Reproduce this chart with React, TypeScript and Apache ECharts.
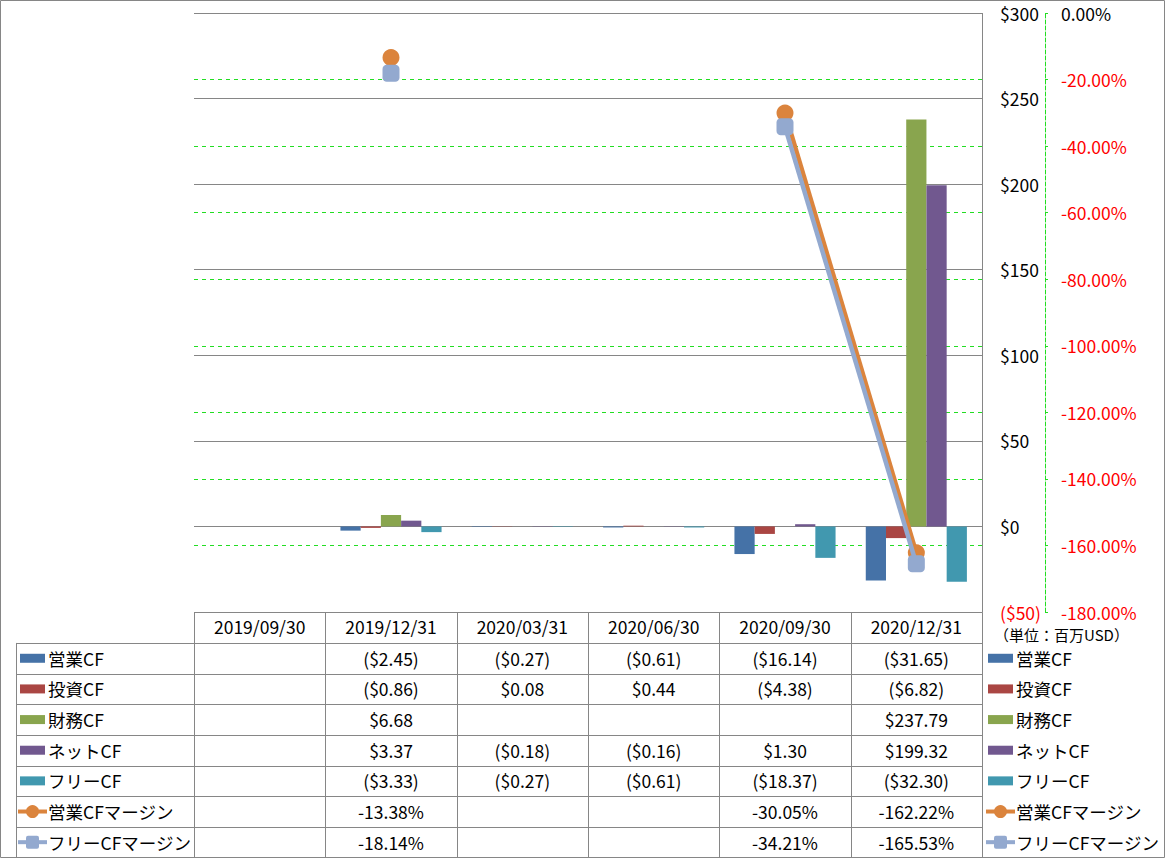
import React, { useEffect, useRef } from "react";
import * as echarts from "echarts";

const categories = ["2019/09/30", "2019/12/31", "2020/03/31", "2020/06/30", "2020/09/30", "2020/12/31"];
const opCF = [null, -2.45, -0.27, -0.61, -16.14, -31.65];
const invCF = [null, -0.86, 0.08, 0.44, -4.38, -6.82];
const finCF = [null, 6.68, null, null, null, 237.79];
const netCF = [null, 3.37, -0.18, -0.16, 1.3, 199.32];
const freeCF = [null, -3.33, -0.27, -0.61, -18.37, -32.3];
const opMargin = [null, -13.38, null, null, -30.05, -162.22];
const freeMargin = [null, -18.14, null, null, -34.21, -165.53];

const barNames = ["営業CF", "投資CF", "財務CF", "ネットCF", "フリーCF"];
const lineNames = ["営業CFマージン", "フリーCFマージン"];
const barColors = ["#4572A7", "#AA4643", "#89A54E", "#71588F", "#4198AF"];
const lineColors = ["#DB843D", "#93A9CF"];
const unitLabel = "（単位：百万USD）";

const FONT = '"Noto Sans CJK JP", "Noto Sans", sans-serif';
const FS = 17.5;

const fmtMoney = (v: number | null) =>
  v == null ? "" : v < 0 ? `($${Math.abs(v).toFixed(2)})` : `$${v.toFixed(2)}`;
const fmtPct = (v: number | null) => (v == null ? "" : `${v.toFixed(2)}%`);

export default function App() {
  const ref = useRef<HTMLDivElement>(null);
  useEffect(() => {
    document.body.style.margin = "0";
    const chart = echarts.init(ref.current!, null, { renderer: "svg" });

    const gridLeft = 194;
    const gridRight = 982;
    const colW = (gridRight - gridLeft) / categories.length;
    const rowTop = 612.3;
    const rowH = 30.65;
    const labelLeft = 16;
    const border = "#868686";

    const barData = [opCF, invCF, finCF, netCF, freeCF];
    const lineData = [opMargin, freeMargin];

    const graphics: any[] = [];
    const Z = 50;
    graphics.push({
      type: "rect",
      z: Z,
      shape: { x: 0.5, y: 0.5, width: 1164, height: 857 },
      style: { fill: "none", stroke: border, lineWidth: 1 },
      silent: true,
    });
    graphics.push({
      type: "line",
      z: Z,
      shape: { x1: gridRight + 0.5, y1: 13, x2: gridRight + 0.5, y2: rowTop },
      style: { stroke: border, lineWidth: 1 },
    });
    graphics.push({
      type: "line",
      z: Z,
      shape: { x1: gridLeft, y1: 13.5, x2: gridRight + 0.5, y2: 13.5 },
      style: { stroke: border, lineWidth: 1 },
    });
    const nRows = 7;
    for (let r = 0; r <= nRows + 1; r++) {
      const y = Math.round(rowTop + r * rowH) + 0.5;
      const x1 = r === 0 ? gridLeft : labelLeft;
      graphics.push({
        type: "line",
        z: Z,
        shape: { x1, y1: y, x2: gridRight + 0.5, y2: y },
        style: { stroke: border, lineWidth: 1 },
      });
    }
    for (let c = 0; c <= categories.length; c++) {
      const x = Math.round(gridLeft + c * colW) + 0.5;
      graphics.push({
        type: "line",
        z: Z,
        shape: { x1: x, y1: rowTop, x2: x, y2: 857 },
        style: { stroke: border, lineWidth: 1 },
      });
    }
    graphics.push({
      type: "line",
      z: Z,
      shape: { x1: labelLeft + 0.5, y1: rowTop + rowH, x2: labelLeft + 0.5, y2: 857 },
      style: { stroke: border, lineWidth: 1 },
    });

    const allNames = [...barNames, ...lineNames];
    const allColors = [...barColors, ...lineColors];
    const allData = [...barData, ...lineData];

    const drawIcon = (i: number, x0: number, cy: number) => {
      if (i < barNames.length) {
        graphics.push({
          type: "rect",
          z: Z,
          shape: { x: x0, y: cy - 4.5, width: 25, height: 9 },
          style: { fill: allColors[i] },
        });
      } else {
        graphics.push({
          type: "line",
          z: Z,
          shape: { x1: x0 - 2, y1: cy, x2: x0 + 27, y2: cy },
          style: { stroke: allColors[i], lineWidth: 4 },
        });
        if (i === barNames.length) {
          graphics.push({
            type: "circle",
            z: Z,
            shape: { cx: x0 + 12.5, cy, r: 6.5 },
            style: { fill: allColors[i] },
          });
        } else {
          graphics.push({
            type: "rect",
            z: Z,
            shape: { x: x0 + 6, y: cy - 6.5, width: 13, height: 13, r: 2 },
            style: { fill: allColors[i] },
          });
        }
      }
    };

    allNames.forEach((name, i) => {
      const cy = rowTop + (i + 1) * rowH + rowH / 2;
      // left table legend
      drawIcon(i, 20, cy);
      graphics.push({
        type: "text",
        z: Z,
        x: 48,
        y: cy,
        style: { text: name, fill: "#000", font: `${FS}px ${FONT}`, textVerticalAlign: "middle", textAlign: "left" },
      });
      // right legend
      drawIcon(i, 988, cy);
      graphics.push({
        type: "text",
        z: Z,
        x: 1016,
        y: cy,
        style: { text: name, fill: "#000", font: `${FS}px ${FONT}`, textVerticalAlign: "middle", textAlign: "left" },
      });
      allData[i].forEach((v, c) => {
        const txt = i < barNames.length ? fmtMoney(v as any) : fmtPct(v as any);
        if (!txt) return;
        graphics.push({
          type: "text",
          z: Z,
          x: gridLeft + (c + 0.5) * colW,
          y: cy,
          style: { text: txt, fill: "#000", font: `${FS}px ${FONT}`, textVerticalAlign: "middle", textAlign: "center" },
        });
      });
    });
    graphics.push({
      type: "text",
      z: Z,
      x: 994,
      y: 634,
      style: { text: unitLabel, fill: "#000", font: `15px ${FONT}`, textVerticalAlign: "middle", textAlign: "left" },
    });

    const series: any[] = [];
    barNames.forEach((name, i) => {
      series.push({
        name,
        type: "bar",
        yAxisIndex: 0,
        data: barData[i],
        itemStyle: { color: barColors[i] },
        barGap: "0%",
        barCategoryGap: "23%",
      });
    });
    lineNames.forEach((name, i) => {
      series.push({
        name,
        type: "line",
        yAxisIndex: 1,
        data: lineData[i],
        connectNulls: false,
        symbol: i === 0 ? "circle" : "roundRect",
        symbolSize: 17,
        lineStyle: { color: lineColors[i], width: 4.5 },
        itemStyle: { color: lineColors[i] },
        z: 3 + i,
      });
    });

    chart.setOption({
      animation: false,
      textStyle: { fontFamily: FONT },
      grid: { left: gridLeft, top: 13, width: gridRight - gridLeft, height: 599 },
      xAxis: {
        type: "category",
        data: categories,
        position: "bottom",
        axisLine: { show: false, onZero: false },
        axisTick: { show: false },
        axisLabel: { margin: 6, fontSize: FS, color: "#000", fontFamily: FONT, interval: 0 },
        splitLine: { show: false },
      },
      yAxis: [
        {
          type: "value",
          position: "right",
          min: -50,
          max: 300,
          interval: 50,
          axisLine: { show: false },
          axisTick: { show: false },
          axisLabel: {
            margin: 18,
            fontSize: FS,
            fontFamily: FONT,
            color: (v: any) => (Number(v) < 0 ? "#ff0000" : "#000"),
            formatter: (v: number) => (v < 0 ? `($${Math.abs(v)})` : `$${v}`),
          },
          splitLine: { show: true, lineStyle: { color: border, width: 1, type: "solid" } },
        },
        {
          type: "value",
          position: "right",
          offset: 63,
          min: -180,
          max: 0,
          interval: 20,
          axisLine: { show: true, lineStyle: { color: "#22dd22", type: "dashed", width: 1 } },
          axisTick: { show: true, length: 3, lineStyle: { color: "#22dd22" } },
          axisLabel: {
            margin: 16,
            fontSize: FS,
            fontFamily: FONT,
            color: (v: any) => (Number(v) < 0 ? "#ff0000" : "#000"),
            formatter: (v: number) => `${v.toFixed(2)}%`,
          },
          splitLine: { show: true, lineStyle: { color: "#22dd22", width: 1, type: [4, 4] } },
        },
      ],
      series,
      graphic: graphics,
    });
    return () => chart.dispose();
  }, []);
  return <div ref={ref} style={{ width: 1165, height: 858 }} />;
}
